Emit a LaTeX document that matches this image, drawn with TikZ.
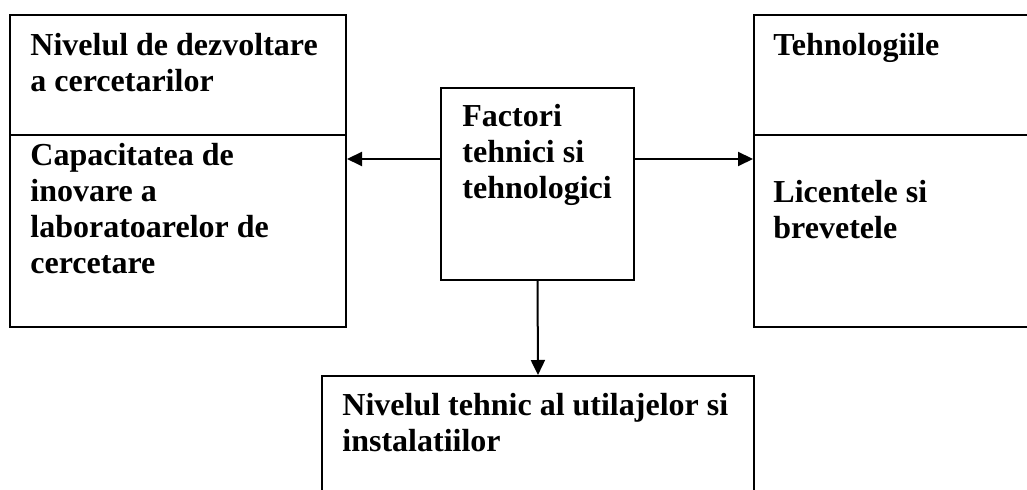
\documentclass[tikz,border=0pt]{standalone}
\usepackage{fontspec}
\setmainfont{Liberation Serif}
\usepackage{tikz}
\usetikzlibrary{arrows.meta}
\tikzset{
  fcboxstyle/.style={draw, rectangle, line width=1pt, anchor=north west, inner sep=0pt},
  fctextstyle/.style={anchor=north west, inner sep=0pt, align=left, font=\fontsize{16}{18}\selectfont\bfseries},
  fcarrowstyle/.style={-{Triangle[length=7.5pt, width=7pt]}, line width=1pt}
}
\newcommand{\fcbox}[4] {\node at (#1) (#2) [fcboxstyle, minimum width=#3, minimum height=#4] {};}
\newcommand{\fctext}[3] {\node at (#1) (#2) [fctextstyle] {#3};}
\newcommand{\fcarrow}[2] {\draw [fcarrowstyle] (#1) -- (#2);}

\begin{document}
\begin{tikzpicture}[x=0.5pt, y=-0.5pt]
\useasboundingbox (0,0) rectangle (1027,490);
\clip (0,0) rectangle (1027,490);

\fcbox {9,14}   {research}  {168pt}   {60pt};
\fcbox {9,134}  {capacity}  {168pt}   {96pt};
\fcbox {753,14} {techs}     {143.5pt} {60pt};
\fcbox {753,134}{licences}  {143.5pt} {96pt};
\fcbox {440,87} {factors}   {96.5pt}  {96pt};
\fcbox {321,375}{equipment} {216pt}   {62.5pt};

\fctext {30,33}   {researchtext}  {Nivelul de dezvoltare\\a cercetarilor};
\fctext {30,143}  {capacitytext}  {Capacitatea de\\inovare a\\laboratoarelor de\\cercetare};
\fctext {773,33}  {techstext}     {Tehnologiile};
\fctext {773,180} {licencestext}  {Licentele si\\brevetele};
\fctext {462,104} {factorstext}   {Factori\\tehnici si\\tehnologici};
\fctext {342,393} {equipmenttext} {Nivelul tehnic al utilajelor si\\instalatiilor};

\coordinate (armlevel) at (0,159);
\fcarrow{factors.west |- armlevel}{capacity.east |- armlevel};
\fcarrow{factors.east |- armlevel}{licences.west |- armlevel};
\fcarrow{factors.south}{equipment.north};
%\fcarrow{research.east}{factors.west};

\end{tikzpicture}
\end{document}
